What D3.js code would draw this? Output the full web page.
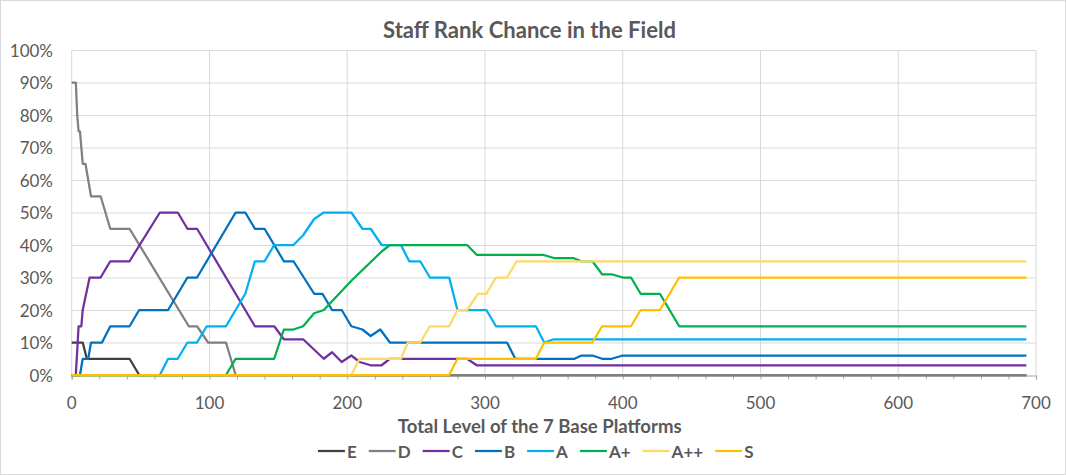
<!DOCTYPE html>
<html><head><meta charset="utf-8">
<script src="https://cdn.jsdelivr.net/npm/d3@7"></script>
<style>html,body{margin:0;padding:0;background:#fff}svg{display:block}</style>
</head><body>
<svg id="c" width="1066" height="475"></svg>
<script>
const seriesNames = ["E","D","C","B","A","A+","A++","S"];
const seriesColors = ["#404040","#808080","#7030A0","#0070C0","#00B0F0","#00B050","#FFD966","#FFC000"];

const xE = [0,8,11,42,49,693];
const yE = [10,10,5,5,0,0];
const xD = [0,3,4,5,6,8,10,12,14,21,28,42,85,91,99,112,119,693];
const yD = [90,90,80,75,75,65,65,60,55,55,45,45,15,15,10,10,0,0];
const xC = [0,3,5,7,8,13,21,28,42,64,77,84,91,133,147,154,168,183,189,196,203,209,217,225,231,287,294,693];
const yC = [0,0,15,15,20,30,30,35,35,50,50,45,45,15,15,11,11,5,7,4,6,4,3,3,5,5,3,3];
const xB = [0,6,8,12,14,22,28,42,49,70,84,91,119,126,133,140,154,161,176,182,189,196,203,211,217,224,231,316,322,365,370,378,385,392,400,693];
const yB = [0,0,5,5,10,10,15,15,20,20,30,30,50,50,45,45,35,35,25,25,20,20,15,14,12,14,10,10,5,5,6,6,5,5,6,6];
const xA = [0,64,70,77,84,91,98,112,126,133,140,147,161,168,176,183,203,211,217,225,231,239,245,253,260,274,280,301,308,337,343,350,693];
const yA = [0,0,5,5,10,10,15,15,25,35,35,40,40,43,48,50,50,45,45,40,40,40,35,35,30,30,20,20,15,15,10,11,11];
const xAp = [0,112,119,147,154,161,168,176,183,203,225,231,287,294,342,350,364,370,378,385,392,400,406,413,427,441,693];
const yAp = [0,0,5,5,14,14,15,19,20,29,38,40,40,37,37,36,36,35,35,31,31,30,30,25,25,15,15];
const xApp = [0,203,209,239,244,253,260,274,280,287,295,301,308,316,323,693];
const yApp = [0,0,5,5,10,10,15,15,20,20,25,25,30,30,35,35];
const xS = [0,274,280,337,343,378,385,406,413,427,441,693];
const yS = [0,0,5,5,10,10,15,15,20,20,30,30];

const xValues = [xE,xD,xC,xB,xA,xAp,xApp,xS];
const yValues = [yE,yD,yC,yB,yA,yAp,yApp,yS];

const title = "Staff Rank Chance in the Field";
const xTitle = "Total Level of the 7 Base Platforms";
const xTickValues = [0,100,200,300,400,500,600,700];
const yTickValues = [0,10,20,30,40,50,60,70,80,90,100];

const svg = d3.select("#c");
const W = 1066, H = 475;
const m = {left:71.7, right:1036, top:50, bottom:375};
const font = "Lato, 'Open Sans', sans-serif";
const textColor = "#595959";

svg.append("rect").attr("x",0.5).attr("y",0.5).attr("width",W-1).attr("height",H-1)
  .attr("fill","#fff").attr("stroke","#d9d9d9");

const x = d3.scaleLinear().domain([0,700]).range([m.left,m.right]);
const y = d3.scaleLinear().domain([0,100]).range([m.bottom,m.top]);

// gridlines
svg.append("g").selectAll("line").data(yTickValues.filter(d=>d>0)).join("line")
  .attr("x1",m.left).attr("x2",m.right).attr("y1",d=>y(d)+0.5).attr("y2",d=>y(d)+0.5)
  .attr("stroke","#d9d9d9").attr("stroke-width",1);
svg.append("g").selectAll("line").data(xTickValues).join("line")
  .attr("x1",d=>x(d)).attr("x2",d=>x(d)).attr("y1",m.top).attr("y2",m.bottom)
  .attr("stroke","#d9d9d9").attr("stroke-width",1);

// x axis
const xAxis = d3.axisBottom(x).tickValues(d3.range(0,701,20)).tickSize(4).tickFormat("");
const gx = svg.append("g").attr("transform",`translate(0,${m.bottom+0.5})`).call(xAxis);
gx.select(".domain").attr("stroke","#a6a6a6").attr("stroke-width",1.2);
gx.selectAll(".tick line").attr("stroke","#a6a6a6");
svg.append("g").selectAll("text").data(xTickValues).join("text")
  .attr("x",d=>x(d)).attr("y",402).attr("text-anchor","middle").attr("dominant-baseline","central")
  .attr("font-family",font).attr("font-size",17).attr("fill",textColor).text(d=>d);

// y labels
svg.append("g").selectAll("text").data(yTickValues).join("text")
  .attr("x",53).attr("y",d=>y(d)).attr("text-anchor","end").attr("dominant-baseline","central")
  .attr("font-family",font).attr("font-size",17).attr("fill",textColor).text(d=>d+"%");

// lines
const line = d3.line().x(d=>x(d[0])).y(d=>y(d[1]));
seriesNames.forEach((n,i)=>{
  const pts = xValues[i].map((xv,j)=>[xv,yValues[i][j]]);
  svg.append("path").datum(pts).attr("d",line).attr("fill","none")
    .attr("stroke",seriesColors[i]).attr("stroke-width",2.25).attr("stroke-linejoin","round");
});

// titles, sized to the reference widths
function fitText(t, target){
  const w = t.node().getComputedTextLength();
  const fs = +t.attr("font-size");
  t.attr("font-size", (fs*target/w).toFixed(2));
}
const tt = svg.append("text").attr("x",529.5).attr("y",29).attr("text-anchor","middle").attr("dominant-baseline","central")
  .attr("font-family",font).attr("font-weight","bold").attr("font-size",20).attr("fill",textColor).text(title);
fitText(tt, 293);
const xt = svg.append("text").attr("x",539.7).attr("y",426).attr("text-anchor","middle").attr("dominant-baseline","central")
  .attr("font-family",font).attr("font-weight","bold").attr("font-size",16).attr("fill",textColor).text(xTitle);
fitText(xt, 284);

// legend
const lg = svg.append("g");
let cx = 0;
seriesNames.forEach((n,i)=>{
  const g = lg.append("g");
  g.append("line").attr("x1",cx).attr("x2",cx+27).attr("y1",0).attr("y2",0)
    .attr("stroke",seriesColors[i]).attr("stroke-width",2.25);
  const t = g.append("text").attr("x",cx+29).attr("y",0).attr("dominant-baseline","central")
    .attr("font-family",font).attr("font-weight","bold").attr("font-size",17).attr("fill",textColor).text(n);
  cx += 29 + t.node().getComputedTextLength() + 12;
});
const total = cx - 12;
lg.attr("transform",`translate(${535.7-total/2},451)`);
</script>
</body></html>
